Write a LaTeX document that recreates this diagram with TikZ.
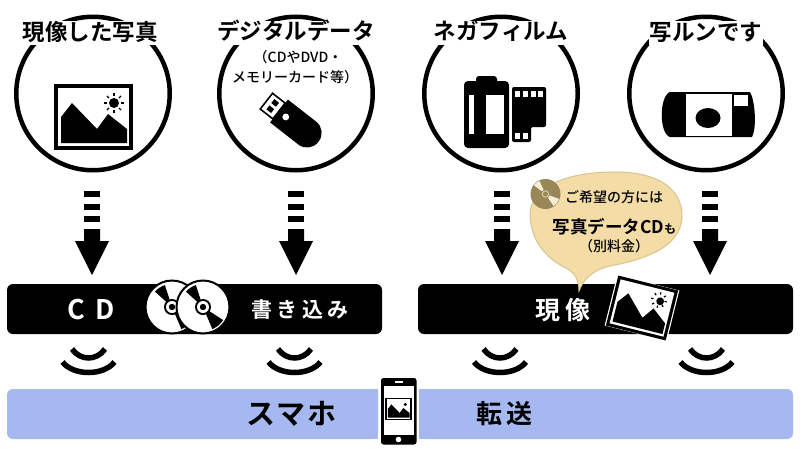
\documentclass[tikz,border=0pt]{standalone}
\usepackage{fontspec}
\setmainfont[BoldFont={Noto Sans CJK JP Bold}]{Noto Sans CJK JP}
\newfontfamily\jpm{Noto Sans CJK JP Medium}
\definecolor{bluebar}{HTML}{A6B8F0}
\definecolor{bubblefill}{HTML}{F3DCA6}
\definecolor{bubbleedge}{HTML}{D8C48F}
\definecolor{cdgray}{HTML}{9A8758}
\definecolor{cdlight}{HTML}{F7EEDA}
\tikzset{
  ring/.style={circle,draw=black,line width=4.5pt,minimum size=153.5pt,inner sep=0pt},
  heading/.style={fill=white,inner xsep=1pt,inner ysep=0pt,minimum height=24pt,text height=17pt,text depth=2.5pt,font=\fontsize{22.5}{24}\selectfont\bfseries},
  subhead/.style={inner sep=0pt,font=\fontsize{14}{16}\jpm},
  blackbar/.style={fill=black,rounded corners=6pt,minimum height=50pt,inner sep=0pt},
  barlabel/.style={inner sep=0pt,text=white,font=\bfseries},
  bluelabel/.style={inner sep=0pt,text=black,font=\bfseries},
  wave/.style={line width=5.5pt},
  downarrow/.pic={
    \fill (-8,0) rectangle (8,6);
    \fill (-8,12.5) rectangle (8,18.5);
    \fill (-8,25) rectangle (8,31);
    \fill (-8,38) -- (8,38) -- (8,50) -- (17,50) -- (0,84) -- (-17,50) -- (-8,50) -- cycle;
  },
  waves/.pic={
    \draw[wave] (-26,-11) .. controls (-15,3) and (15,3) .. (26,-11);
    \draw[wave] (-16.5,-24) .. controls (-8,-12) and (8,-12) .. (16.5,-24);
  },
  photo/.pic={
    \fill[black] (-39.5,-33) rectangle (39.5,33);
    \fill[white] (-35.5,-29) rectangle (35.5,29);
    \fill[black] (-32.5,26) -- (-32.5,0) -- (-21.5,-14) -- (3.5,12) -- (14.5,-3) -- (33.5,12) -- (33.5,26) -- cycle;
    \fill[black] (20.5,-14) circle (5);
  },
  sunrays/.pic={
    \foreach \a in {0,45,...,315}
      \draw[black,line width=1.2pt] (\a:7) -- (\a:10);
  },
  disc/.pic={
    \fill[white,draw=black,line width=2pt] (0,0) circle (26.5);
    \fill[black] (0,0) -- (-108:23) arc[start angle=-108,end angle=-138,radius=23] -- cycle;
    \fill[black] (0,0) -- (33:24) arc[start angle=33,end angle=67,radius=24] -- cycle;
    \fill[black] (0,0) circle (8);
    \fill[white] (0,0) circle (6);
    \fill[black] (0,0) circle (3.2);
  }
}
\begin{document}
\begin{tikzpicture}[x=1pt,y=-1pt]
\useasboundingbox (0,0) rectangle (800,450);
\fill[white] (0,0) rectangle (800,450);

% circles
\node[ring] (c1) at (93,93.5) {};
\node[ring] (c2) at (296,93.5) {};
\node[ring] (c3) at (501,93.5) {};
\node[ring] (c4) at (706,93.5) {};

% headings
\node[heading] (h1) at (90.5,33) {現像した写真};
\node[heading] (h2) at (296,32.5) {デジタルデータ};
\node[heading] (h3) at (501,32.5) {ネガフィルム};
\node[heading] (h4) at (706,33) {写ルンです};
\node[subhead] (s2a) at (298,57) {（CDやDVD・};
\node[subhead] (s2b) at (295,77) {メモリーカード等）};

% photo icon
\pic at (93.5,117) {photo};
\pic at (114,103) {sunrays};

% USB stick
\begin{scope}[shift={(279,111)},rotate=-38]
  \fill[black] (0,-14.5) [rounded corners=14pt] -- (50,-14.5) -- (50,14.5) [sharp corners] -- (0,14.5) -- cycle;
  \draw[black,fill=white,line width=1.6pt] (-16,-10) rectangle (0,10);
  \fill[black] (-11,-6.5) rectangle (-5,-1.5);
  \fill[black] (-11,1.5) rectangle (-5,6.5);
  \fill[white] (9,.5) circle (3.4);
\end{scope}

% film
\fill[black,rounded corners=3pt] (476,84) -- (476,76) -- (497,76) -- (497,84) -- cycle;
\fill[black,rounded corners=4pt] (464,81) rectangle (509,148);
\fill[white] (469,95) rectangle (474,134);
\fill[white] (486,95) rectangle (504,134);
\fill[black,rounded corners=2pt] (512,87) -- (546,87) -- (546,127) -- (531,127) -- (531,142) -- (512,142) -- cycle;
\foreach \x in {515,523,530.5,538}
  \fill[white] (\x,91) rectangle ++(5,6);
\foreach \x in {515,523}
  \fill[white] (\x,133) rectangle ++(5,6);

% camera
\fill[black] (670,92) -- (750,92) .. controls (755,100) and (757,128) .. (752,137) -- (670,137) .. controls (659,134) and (659,96) .. (670,92) -- cycle;
\fill[white] (686,93.5) rectangle (732,135.5);
\fill[black] (708,118) ellipse[x radius=12.5,y radius=10];
\fill[white] (734,94.5) rectangle (748,106);

% arrows
\pic at (92,191) {downarrow};
\pic at (296,191) {downarrow};
\pic at (502,191) {downarrow};
\pic at (710,191) {downarrow};

% black bars
\node[blackbar,minimum width=375pt] (b1) at (194.5,309) {};
\node[blackbar,minimum width=375pt] (b2) at (605.5,309) {};
\node[barlabel,font=\fontsize{27}{28}\selectfont\bfseries] (t1) at (91,310) {C\hspace{10pt}D};
\node[barlabel,font=\fontsize{21}{22}\selectfont\bfseries] (t2) at (300,310) {書\hspace{4.5pt}き\hspace{4.5pt}込\hspace{4.5pt}み};
\node[barlabel,font=\fontsize{25}{26}\selectfont\bfseries] (t3) at (562.5,310) {現\hspace{5pt}像};

% discs
\pic at (172,307) {disc};
\pic at (203,307) {disc};

% bubble
\draw[fill=bubblefill,draw=bubbleedge,line width=1pt] (579,291)
  .. controls (579,280) and (575,273) .. (566,268)
  .. controls (545,258) and (531,240) .. (530,215)
  .. controls (530,190) and (560,172) .. (615,172)
  .. controls (660,172) and (683,190) .. (682,218)
  .. controls (680,245) and (650,258) .. (615,265)
  .. controls (598,268) and (585,275) .. (579,291) -- cycle;
\fill[cdgray] (545.5,194) circle (15);
\fill[cdlight] (545.5,194) -- +(-143:14.5) arc[start angle=-143,end angle=-115,radius=14.5] -- cycle;
\fill[cdlight] (545.5,194) -- +(20:14.5) arc[start angle=20,end angle=56,radius=14.5] -- cycle;
\fill[cdgray] (545.5,194) circle (4.6);
\draw[cdlight!70!cdgray,line width=.9pt] (545.5,194) circle (3.2);
\node[subhead] (n1) at (614,197) {ご希望の方には};
\node[inner sep=0pt,font=\fontsize{17.5}{19}\selectfont\bfseries] (n2) at (614.5,227) {写真データCD\fontsize{12}{14}\selectfont も};
\node[subhead] (n3) at (614,246.5) {（別料金）};

% rotated photo
\fill[white,rotate around={-14:(642,308)}] (642-32,308-26) rectangle (642+32,308+26);
\pic[scale=.78,rotate=-14] at (642,308) {photo};
\pic[rotate=-14,scale=.8] at (659,300) {sunrays};

% waves
\pic at (88.5,373) {waves};
\pic at (294.5,373) {waves};
\pic at (500,373) {waves};
\pic at (706.5,373) {waves};

% blue bars
\fill[bluebar,rounded corners=6pt] (378,389) -- (7,389) -- (7,439) -- (378,439) [sharp corners] -- cycle;
\fill[bluebar] (378,389) rectangle (370,439);
\fill[bluebar,rounded corners=6pt] (419,389) -- (793,389) -- (793,439) -- (419,439) [sharp corners] -- cycle;
\fill[bluebar] (419,389) rectangle (427,439);
\node[bluelabel,font=\fontsize{29}{30}\selectfont\bfseries] (t4) at (291.5,413.5) {ス\hspace{2pt}マ\hspace{2pt}ホ};
\node[bluelabel,font=\fontsize{26}{28}\selectfont\bfseries] (t5) at (504.5,414) {転\hspace{5pt}送};

% phone
\fill[black,rounded corners=2.5pt] (381,378) rectangle (416.5,444.5);
\fill[white] (383.5,385.5) rectangle (413.5,435);
\fill[white] (394.5,381) rectangle (403,382.7);
\fill[white] (398.5,439.5) circle (2.8);
\pic[scale=.33] at (398.5,409) {photo};
\end{tikzpicture}
\end{document}
